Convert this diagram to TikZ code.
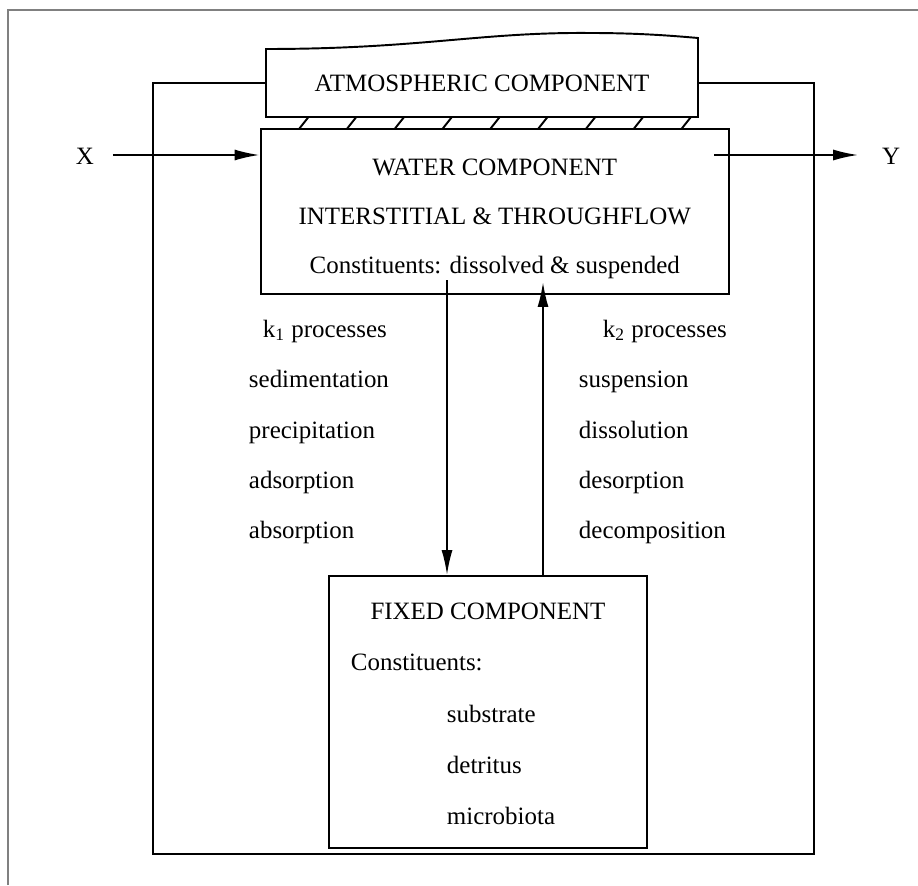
\documentclass[tikz,border=0pt]{standalone}
\usepackage{fontspec}
\setmainfont{Liberation Serif}
\usetikzlibrary{arrows.meta}
\tikzset{
  box/.style={draw, line width=1.1pt, inner sep=0pt},
  arr/.style={line width=1.1pt, -{Latex[length=0.5cm,width=0.22cm]}},
  lbl/.style={anchor=base west, inner sep=0pt},
}

\begin{document}
\begin{tikzpicture}[x=0.02cm,y=-0.02cm,line width=1.1pt,font=\fontsize{14.2}{17}\selectfont]
\useasboundingbox (0,0) rectangle (918,885);
\draw[gray, line width=0.6pt] (8,885) -- (8,10) -- (918,10);
% atmosphere with wavy top
\draw (266,49) .. controls (420,49) and (480,32) .. (590,33)
      .. controls (640,33) and (675,36) .. (698,38) -- (698,117) -- (266,117) -- cycle;
\node[inner sep=0pt, minimum width=8.64cm, minimum height=1.36cm] (atm) at (482,83) {};
\node[anchor=base] at (482,92) {ATMOSPHERIC COMPONENT};
\foreach \i in {0,...,8}
  \draw (299+47.8*\i,129) -- (308.5+47.8*\i,117);
% water
\node[box, minimum width=9.37cm, minimum height=3.3cm] (water) at (494.75,211.5) {};
\node[anchor=base] at (494.75,175) {WATER COMPONENT};
\node[anchor=base] at (494.75,224) {INTERSTITIAL \& THROUGHFLOW};
\node[anchor=base] at (494.75,273) {Constituents: dissolved \& suspended};
% fixed
\node[box, minimum width=6.36cm, minimum height=5.44cm] (fixed) at (488,712) {};
\node[anchor=base] at (488,619) {FIXED COMPONENT};
\node[lbl] at (350,670) {Constituents:};
\node[lbl] at (446,722) {substrate};
\node[lbl] at (446,773) {detritus};
\node[lbl] at (446,824) {microbiota};
% processes
\node[lbl] at (262,337) {k\textsubscript{1} processes};
\node[lbl] at (248,387) {sedimentation};
\node[lbl] at (248,438) {precipitation};
\node[lbl] at (248,488) {adsorption};
\node[lbl] at (248,538) {absorption};
\node[lbl] at (602,337) {k\textsubscript{2} processes};
\node[lbl] at (578,387) {suspension};
\node[lbl] at (578,438) {dissolution};
\node[lbl] at (578,488) {desorption};
\node[lbl] at (578,538) {decomposition};
% exchange arrows
\coordinate (dtop) at (447,280);
\coordinate (utip) at (543,282);
\draw[arr] (dtop) -- (dtop |- fixed.north);
\draw[arr] (utip |- fixed.north) -- (utip);
% input and output
\node (xin) at (85,156) {X};
\node (yout) at (891,156) {Y};
\coordinate (ystart) at (714,155);
\draw[arr] ([xshift=0.24cm]xin.east |- ystart) -- (ystart -| water.west);
\draw[arr] (ystart) -- ([xshift=-0.34cm]yout.west |- ystart);
% loop round
\draw (atm.west) -- (153,83) -- (153,854) -- (814,854) -- (814,83) -- (atm.east);
\end{tikzpicture}
\end{document}
